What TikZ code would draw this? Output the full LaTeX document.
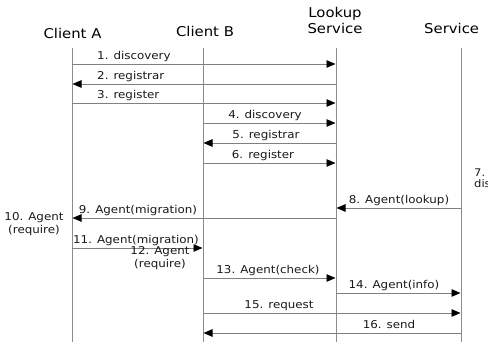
\documentclass[tikz,border=0pt]{standalone}
\usepackage{fontspec}
\setmainfont[FakeStretch=1.1]{DejaVu Sans}
\usetikzlibrary{arrows.meta}
\begin{document}
\begin{tikzpicture}[x=1pt,y=-1pt,
  lifeline/.style={draw=black!45,line width=0.9pt},
  msg/.style={draw=black!50,line width=0.9pt,-{Triangle[length=9pt,width=7.5pt,color=black]},shorten >=0.5pt},
  title/.style={font=\fontsize{13.5}{15}\selectfont,inner sep=0pt,anchor=base,text=black},
  lbl/.style={font=\fontsize{10.8}{13.5}\selectfont,inner sep=0pt,anchor=base,text=black!90},
  note/.style={font=\fontsize{10.8}{13.5}\selectfont,inner sep=0pt,align=center,anchor=base,text=black!90}]
\useasboundingbox (0,0) rectangle (488,342);
% lifeline ends
\coordinate (At) at (72,48);  \coordinate (Ab) at (72,342);
\coordinate (Bt) at (203,48); \coordinate (Bb) at (203,342);
\coordinate (Lt) at (336,48); \coordinate (Lb) at (336,342);
\coordinate (St) at (461,48); \coordinate (Sb) at (461,342);
\draw[lifeline] (At) -- (Ab);
\draw[lifeline] (Bt) -- (Bb);
\draw[lifeline] (Lt) -- (Lb);
\draw[lifeline] (St) -- (Sb);
% titles
\node[title] (tA) at (72.5,39) {Client A};
\node[title] (tB) at (205,37) {Client B};
\node[title] (tL1) at (335,17.3) {Lookup};
\node[title] (tL2) at (335,33.3) {Service};
\node[title,anchor=base west] (tS) at (424,33.3) {Service};
% message heights
\coordinate (m1) at (0,64);
\coordinate (m2) at (0,84);
\coordinate (m3) at (0,103);
\coordinate (m4) at (0,123);
\coordinate (m5) at (0,143);
\coordinate (m6) at (0,163);
\coordinate (m8) at (0,208);
\coordinate (m9) at (0,218);
\coordinate (m11) at (0,248);
\coordinate (m13) at (0,278);
\coordinate (m14) at (0,293);
\coordinate (m15) at (0,313);
\coordinate (m16) at (0,333);
% messages
\draw[msg] (At |- m1) -- (Lt |- m1);
\draw[msg] (Lt |- m2) -- (At |- m2);
\draw[msg] (At |- m3) -- (Lt |- m3);
\draw[msg] (Bt |- m4) -- (Lt |- m4);
\draw[msg] (Lt |- m5) -- (Bt |- m5);
\draw[msg] (Bt |- m6) -- (Lt |- m6);
\draw[msg] (St |- m8) -- (Lt |- m8);
\draw[msg] (Lt |- m9) -- (At |- m9);
\draw[msg] (At |- m11) -- (Bt |- m11);
\draw[msg] (Bt |- m13) -- (Lt |- m13);
\draw[msg] (Lt |- m14) -- (St |- m14);
\draw[msg] (Bt |- m15) -- (St |- m15);
\draw[msg] (St |- m16) -- (Bt |- m16);
% labels
\node[lbl,anchor=base west] (l1) at (97,59.5) {1. discovery};
\node[lbl,anchor=base west] (l2) at (97,79.5) {2. registrar};
\node[lbl,anchor=base west] (l3) at (97,98.5) {3. register};
\node[lbl] (l4) at (265,119) {4. discovery};
\node[lbl] (l5) at (266,139) {5. registrar};
\node[lbl] (l6) at (263,159) {6. register};
\node[note,anchor=north west,align=left,font=\fontsize{10.5}{11.5}\selectfont] (l7) at (474,168) {7. Service\\discovery};
\node[lbl] (l8) at (399,203.5) {8. Agent(lookup)};
\node[lbl] (l9) at (138,213.5) {9. Agent(migration)};
\node[note] (l10) at (34,234) {10. Agent\\(require)};
\node[lbl] (l11) at (136,243.5) {11. Agent(migration)};
\node[note] (l12) at (160,268) {12. Agent\\(require)};
\node[lbl] (l13) at (268,273.5) {13. Agent(check)};
\node[lbl] (l14) at (394,288.5) {14. Agent(info)};
\node[lbl] (l15) at (279,308.5) {15. request};
\node[lbl] (l16) at (389,328.5) {16. send};
\end{tikzpicture}
\end{document}
